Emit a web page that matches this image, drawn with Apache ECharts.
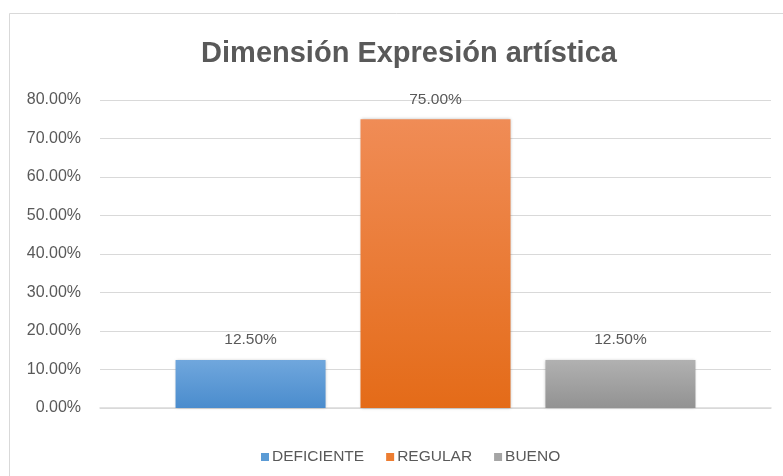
<!DOCTYPE html>
<html>
<head>
<meta charset="utf-8">
<script src="https://cdn.jsdelivr.net/npm/echarts@6/dist/echarts.min.js"></script>
<style>html,body{margin:0;padding:0;background:#fff;}#c{width:783px;height:476px;}</style>
</head>
<body>
<div id="c"></div>
<script>
const titleText = 'Dimensión Expresión artística';
const categories = [''];
const seriesNames = ['DEFICIENTE', 'REGULAR', 'BUENO'];
const seriesValues = [[12.5], [75], [12.5]];
const yTicks = { min: 0, max: 80, interval: 10 };

const gradients = [
  ['#70a7dd', '#4a8ccd'],
  ['#f08c56', '#e46b18'],
  ['#b1b1b1', '#929292']
];
const legendColors = ['#5b9bd5', '#ed7d31', '#a5a5a5'];
const font = 'Liberation Sans';
const chart = echarts.init(document.getElementById('c'), null, {renderer: 'canvas'});
chart.setOption({
  animation: false,
  backgroundColor: '#fff',
  graphic: [{
    type: 'rect', left: 9, top: 13, z: -10,
    shape: {x: 0.5, y: 0.5, width: 800, height: 500},
    style: {fill: '#fff', stroke: '#d9d9d9', lineWidth: 1}
  }],
  title: {
    text: titleText, left: 404, top: 34, textAlign: 'center',
    textStyle: {fontFamily: font, fontSize: 29, fontWeight: 'bold', color: '#595959'}
  },
  legend: {
    left: 256, top: 444, itemWidth: 8, itemHeight: 8, itemGap: 22,
    icon: 'rect',
    data: seriesNames.map((n, i) => ({name: n, itemStyle: {color: legendColors[i]}})),
    textStyle: {fontFamily: font, fontSize: 15.5, color: '#595959', padding: [0, 0, 0, -2]}
  },
  grid: {left: 100, right: 12, top: 100, bottom: 68, containLabel: false},
  xAxis: {
    type: 'category', data: categories,
    axisLine: {show: true, lineStyle: {color: '#d9d9d9', width: 1.5}},
    axisTick: {show: false}, axisLabel: {show: false}
  },
  yAxis: {
    type: 'value', min: yTicks.min, max: yTicks.max, interval: yTicks.interval,
    axisLine: {show: false}, axisTick: {show: false},
    splitLine: {lineStyle: {color: '#d9d9d9', width: 1}},
    axisLabel: {
      formatter: v => v.toFixed(2) + '%', margin: 19,
      fontFamily: font, fontSize: 16, color: '#595959'
    }
  },
  series: seriesNames.map((n, i) => ({
    name: n, type: 'bar', data: seriesValues[i],
    barWidth: 150, barGap: '23.3%',
    itemStyle: {
      color: new echarts.graphic.LinearGradient(0, 0, 0, 1, [
        {offset: 0, color: gradients[i][0]},
        {offset: 1, color: gradients[i][1]}
      ]),
      shadowBlur: 3, shadowColor: 'rgba(0,0,0,0.25)'
    },
    label: {
      show: true, position: 'top', distance: 12,
      formatter: p => p.value.toFixed(2) + '%',
      fontFamily: font, fontSize: 15.5, color: '#595959'
    }
  }))
});
</script>
</body>
</html>
